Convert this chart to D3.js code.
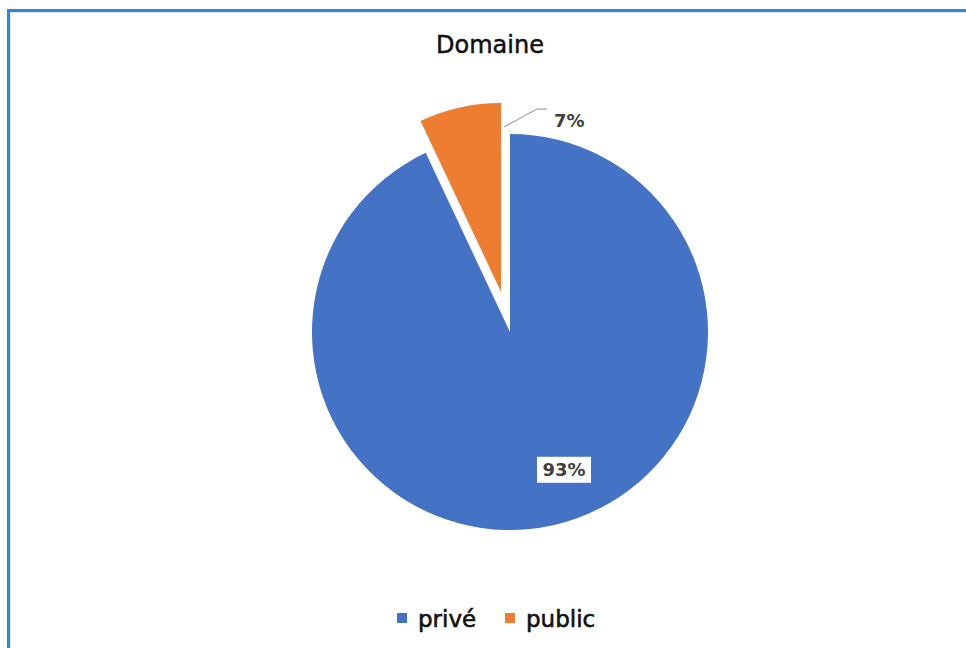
<!DOCTYPE html>
<html>
<head>
<meta charset="utf-8">
<script src="https://cdn.jsdelivr.net/npm/d3@7/dist/d3.min.js"></script>
<style>
  html, body { margin: 0; padding: 0; background: #fff; }
  svg { display: block; font-family: "DejaVu Sans", sans-serif; }
</style>
</head>
<body>
<div id="chart"></div>
<script>
/* Domaine — pie chart, public slice exploded. */
const categories = ["privé", "public"];
const values = [93, 7];
const labels = ["93%", "7%"];
const colors = ["#4472C4", "#ED7D31"];
const title = "Domaine";

const W = 966, H = 648;
const cx = 510, cy = 332, R = 198;

const svg = d3.select("#chart").append("svg")
  .attr("width", W).attr("height", H).attr("viewBox", `0 0 ${W} ${H}`);

// frame
svg.append("rect").attr("x", 10.5).attr("y", 12.5).attr("width", W).attr("height", H)
  .attr("fill", "none").attr("stroke", "#e3e3e3").attr("stroke-width", 1);
svg.append("rect").attr("x", 8.5).attr("y", 10.5).attr("width", W).attr("height", H)
  .attr("fill", "none").attr("stroke", "#2b88d2").attr("stroke-width", 3);

svg.append("text").attr("x", 490).attr("y", 53).attr("text-anchor", "middle")
  .attr("font-size", 24).attr("fill", "#111").attr("stroke", "#111").attr("stroke-width", 0.5)
  .text(title);

const rows = categories.map((c, i) => ({ cat: c, v: values[i], label: labels[i], color: colors[i] }));
const pie = d3.pie().sort(null).value(d => d.v);
const arcs = pie(rows);

const arc = d3.arc().innerRadius(0);
const g = svg.append("g").attr("transform", `translate(${cx},${cy})`);

// exploded slice offset and radius (public slice)
const explode = [0, 41];
const radius = [R, 189];

g.selectAll("path").data(arcs).join("path")
  .attr("transform", (d, i) => {
    const a = (d.startAngle + d.endAngle) / 2;
    return `translate(${Math.sin(a) * explode[i]},${-Math.cos(a) * explode[i]})`;
  })
  .attr("d", (d, i) => arc.outerRadius(radius[i])(d))
  .attr("fill", d => d.data.color);

// 93% label inside, white box
const a0 = arcs[0];
const pBig = d3.pointRadial(2.768, 148);
const lb = g.append("g").attr("transform", `translate(${pBig[0]},${pBig[1]})`);
lb.append("rect").attr("x", -27).attr("y", -13).attr("width", 54).attr("height", 26).attr("fill", "#fff");
lb.append("text").attr("text-anchor", "middle").attr("dy", "0.36em")
  .attr("font-size", 18).attr("font-weight", "bold").attr("fill", "#404040").text(a0.data.label);

// 7% label outside with leader line
const a1 = arcs[1];
const leader = [[-6, -205], [27, -223], [37, -223]];
g.append("polyline").attr("points", leader.map(p => p.join(",")).join(" "))
  .attr("fill", "none").attr("stroke", "#8c8c8c").attr("stroke-width", 1);
g.append("text").attr("x", 44).attr("y", -205)
  .attr("font-size", 18).attr("font-weight", "bold").attr("fill", "#404040").text(a1.data.label);

// legend
const leg = svg.append("g").attr("transform", "translate(0,627)");
const legX = [397, 505];
rows.forEach((d, i) => {
  leg.append("rect").attr("x", legX[i]).attr("y", -14).attr("width", 10).attr("height", 10).attr("fill", d.color);
  leg.append("text").attr("x", legX[i] + 21).attr("y", 0)
    .attr("font-size", 23).attr("fill", "#111").attr("stroke", "#111").attr("stroke-width", 0.6)
    .text(d.cat);
});
</script>
</body>
</html>
